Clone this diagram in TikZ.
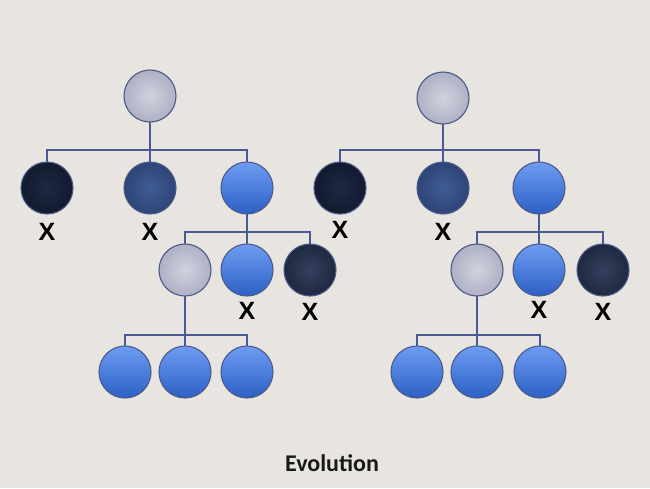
\documentclass[tikz,border=0pt]{standalone}
\usepackage{fontspec}
\setmainfont{Carlito}
\newfontfamily\xfont{Liberation Sans}
\begin{document}
\begin{tikzpicture}[x=1pt,y=-1pt,
  bub/.style={circle,minimum size=52pt,inner sep=0pt,draw=edgec,line width=1.1pt},
  grey/.style={bub,inner color=greyin,outer color=greyout},
  navy/.style={bub,inner color=navyin,outer color=navyout},
  mid/.style={bub,inner color=midin,outer color=midout},
  bright/.style={bub,top color=brighttop,bottom color=brightbot},
  dark/.style={bub,inner color=darkin,outer color=darkout},
  conn/.style={draw=linec,line width=2pt},
  xmark/.style={font=\xfont\bfseries\fontsize{25}{25}\selectfont,text=black,inner sep=0pt}]
\definecolor{bg}{HTML}{E8E5E0}
\definecolor{edgec}{HTML}{4A5A8A}
\definecolor{linec}{HTML}{4A5A92}
\definecolor{greyin}{HTML}{D2D2DE}
\definecolor{greyout}{HTML}{AEB0C4}
\definecolor{navyin}{HTML}{1C2844}
\definecolor{navyout}{HTML}{121A2E}
\definecolor{midin}{HTML}{405C96}
\definecolor{midout}{HTML}{2E4476}
\definecolor{brighttop}{HTML}{6E9CF2}
\definecolor{brightbot}{HTML}{2C60C4}
\definecolor{darkin}{HTML}{34405E}
\definecolor{darkout}{HTML}{1E2840}
\fill[bg] (0,0) rectangle (650,488);
\useasboundingbox (0,0) rectangle (650,488);

% ---------- left tree ----------
\draw[conn] (150,96) -- (150,150);
\draw[conn] (47,188) |- (247,150) -- (247,188);
\draw[conn] (150,150) -- (150,188);
\draw[conn] (247,188) -- (247,270);
\draw[conn] (185,270) |- (310,232) -- (310,270);
\draw[conn] (185,270) -- (185,372);
\draw[conn] (125,372) |- (247,335) -- (247,372);
\node[grey] (L0) at (150,96) {};
\node[navy] (L1) at (47,188) {};
\node[mid] (L2) at (150,188) {};
\node[bright] (L3) at (247,188) {};
\node[grey] (L4) at (185,270) {};
\node[bright] (L5) at (247,270) {};
\node[dark] (L6) at (310,270) {};
\node[bright] (L7) at (125,372) {};
\node[bright] (L8) at (185,372) {};
\node[bright] (L9) at (247,372) {};
\node[xmark] (LX1) at (47,232) {X};
\node[xmark] (LX2) at (150,232) {X};
\node[xmark] (LX5) at (247,311) {X};
\node[xmark] (LX6) at (310,312) {X};

% ---------- right tree ----------
\draw[conn] (443,98) -- (443,150);
\draw[conn] (340,188) |- (539,150) -- (539,188);
\draw[conn] (443,150) -- (443,188);
\draw[conn] (539,188) -- (539,270);
\draw[conn] (477,270) |- (603,232) -- (603,270);
\draw[conn] (477,270) -- (477,372);
\draw[conn] (417,372) |- (540,335) -- (540,372);
\node[grey] (R0) at (443,98) {};
\node[navy] (R1) at (340,188) {};
\node[mid] (R2) at (443,188) {};
\node[bright] (R3) at (539,188) {};
\node[grey] (R4) at (477,270) {};
\node[bright] (R5) at (539,270) {};
\node[dark] (R6) at (603,270) {};
\node[bright] (R7) at (417,372) {};
\node[bright] (R8) at (477,372) {};
\node[bright] (R9) at (540,372) {};
\node[xmark] (RX1) at (340,230) {X};
\node[xmark] (RX2) at (443,232) {X};
\node[xmark] (RX5) at (539,310) {X};
\node[xmark] (RX6) at (603,312) {X};

\node[font=\bfseries\fontsize{24}{24}\selectfont,text=black!90] (title) at (332,463) {Evolution};
\end{tikzpicture}
\end{document}
